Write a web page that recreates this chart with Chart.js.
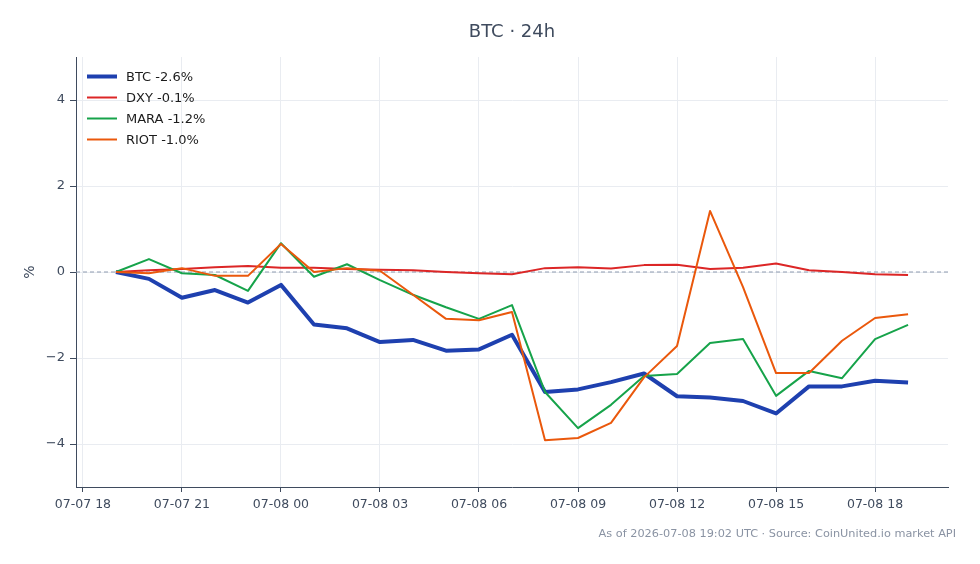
<!DOCTYPE html>
<html>
<head>
<meta charset="utf-8">
<script src="https://cdn.jsdelivr.net/npm/chart.js@4/dist/chart.umd.min.js"></script>
<style>
  html, body { margin: 0; padding: 0; background: #fff; }
</style>
</head>
<body>
<canvas id="chart" width="980" height="564"></canvas>
<script>
'use strict'

// hourly samples, % change since first point
const baseTime = '2026-07-07T18:00:00Z'
const times = [
  '2026-07-07T19:00:00Z', '2026-07-07T20:00:00Z', '2026-07-07T21:00:00Z', '2026-07-07T22:00:00Z',
  '2026-07-07T23:00:00Z', '2026-07-08T00:00:00Z', '2026-07-08T01:00:00Z', '2026-07-08T02:00:00Z',
  '2026-07-08T03:00:00Z', '2026-07-08T04:00:00Z', '2026-07-08T05:00:00Z', '2026-07-08T06:00:00Z',
  '2026-07-08T07:00:00Z', '2026-07-08T08:00:00Z', '2026-07-08T09:00:00Z', '2026-07-08T10:00:00Z',
  '2026-07-08T11:00:00Z', '2026-07-08T12:00:00Z', '2026-07-08T13:00:00Z', '2026-07-08T14:00:00Z',
  '2026-07-08T15:00:00Z', '2026-07-08T16:00:00Z', '2026-07-08T17:00:00Z', '2026-07-08T18:00:00Z',
  '2026-07-08T19:00:00Z'
]
const btc  = [0, -0.16, -0.60, -0.42, -0.71, -0.30, -1.22, -1.31, -1.63, -1.58, -1.83, -1.80, -1.46,
              -2.79, -2.73, -2.56, -2.36, -2.89, -2.92, -3.00, -3.29, -2.66, -2.66, -2.53, -2.57]
const dxy  = [0, 0.04, 0.07, 0.11, 0.14, 0.10, 0.10, 0.07, 0.05, 0.04, 0.00, -0.03, -0.05,
              0.09, 0.11, 0.08, 0.16, 0.17, 0.07, 0.10, 0.20, 0.04, 0.00, -0.05, -0.07]
const mara = [0, 0.30, -0.03, -0.07, -0.44, 0.67, -0.11, 0.18, -0.19, -0.53, -0.82, -1.09, -0.77,
              -2.79, -3.63, -3.09, -2.42, -2.37, -1.65, -1.56, -2.88, -2.30, -2.47, -1.56, -1.23]
const riot = [0, -0.03, 0.09, -0.09, -0.09, 0.65, 0.00, 0.09, 0.03, -0.53, -1.09, -1.12, -0.93,
              -3.91, -3.86, -3.51, -2.45, -1.72, 1.42, -0.35, -2.35, -2.35, -1.60, -1.07, -0.98]

const seriesNames = ['BTC', 'DXY', 'MARA', 'RIOT']
const xTickHours = [0, 3, 6, 9, 12, 15, 18, 21, 24]
const xTickLabels = ['07-07 18', '07-07 21', '07-08 00', '07-08 03', '07-08 06',
                     '07-08 09', '07-08 12', '07-08 15', '07-08 18']
const yTicks = [-4, -2, 0, 2, 4]

const titleText = 'BTC · 24h'
const footerText = 'As of 2026-07-08 19:02 UTC · Source: CoinUnited.io market API'

const axisColor = '#3f4b5e'
const gridColor = '#e9ecf1'
const font = '"DejaVu Sans", sans-serif'

const hours = times.map(t => (Date.parse(t) - Date.parse(baseTime)) / 3.6e6)
const toPoints = arr => arr.map((v, i) => ({ x: hours[i], y: v }))
const label = (name, arr) => name + ' ' + arr[arr.length - 1].toFixed(1) + '%'

const decor = {
  id: 'decor',
  beforeDatasetsDraw(chart) {
    const { ctx, chartArea: a, scales: { y } } = chart
    const y0 = y.getPixelForValue(0)
    ctx.save()
    ctx.strokeStyle = '#8f9bb0'
    ctx.lineWidth = 1
    ctx.setLineDash([4, 3])
    ctx.beginPath()
    ctx.moveTo(a.left, y0)
    ctx.lineTo(a.right, y0)
    ctx.stroke()
    ctx.restore()
  },
  afterDraw(chart) {
    const { ctx, chartArea: a } = chart
    ctx.save()
    ctx.textBaseline = 'middle'

    ctx.fillStyle = axisColor
    ctx.font = '18px ' + font
    ctx.textAlign = 'center'
    ctx.fillText(titleText, (a.left + a.right) / 2, 32)

    ctx.fillStyle = '#8a93a3'
    ctx.font = '11.3px ' + font
    ctx.textAlign = 'right'
    ctx.fillText(footerText, chart.width - 24, 534)

    // legend, top-left inside the plot
    ctx.textAlign = 'left'
    ctx.font = '13px ' + font
    chart.data.datasets.forEach((ds, i) => {
      const yy = a.top + 19.5 + i * 21
      ctx.strokeStyle = ds.borderColor
      ctx.lineWidth = ds.borderWidth
      ctx.beginPath()
      ctx.moveTo(a.left + 11, yy)
      ctx.lineTo(a.left + 41, yy)
      ctx.stroke()
      ctx.fillStyle = '#1c1c1c'
      ctx.fillText(ds.label, a.left + 50, yy + 1)
    })
    ctx.restore()
  }
}

const datasets = [
  { label: label(seriesNames[0], btc),  data: toPoints(btc),  borderColor: '#1e40af', borderWidth: 4, order: 3 },
  { label: label(seriesNames[1], dxy),  data: toPoints(dxy),  borderColor: '#dc2626', borderWidth: 2, order: 2 },
  { label: label(seriesNames[2], mara), data: toPoints(mara), borderColor: '#16a34a', borderWidth: 2, order: 1 },
  { label: label(seriesNames[3], riot), data: toPoints(riot), borderColor: '#ea580c', borderWidth: 2, order: 0 }
]

new Chart(document.getElementById('chart').getContext('2d'), {
  type: 'line',
  data: { datasets },
  plugins: [decor],
  options: {
    responsive: false,
    animation: false,
    layout: { padding: { top: 57, right: 32, bottom: 47, left: 0 } },
    elements: {
      line: { tension: 0, fill: false, borderJoinStyle: 'round' },
      point: { radius: 0, hoverRadius: 0 }
    },
    plugins: {
      legend: { display: false },
      title: { display: false },
      tooltip: { enabled: false }
    },
    scales: {
      x: {
        type: 'linear',
        min: -0.21,
        max: 26.21,
        afterBuildTicks: s => { s.ticks = xTickHours.map(v => ({ value: v })) },
        afterFit: s => { s.height = 30 },
        ticks: {
          autoSkip: false,
          maxRotation: 0,
          padding: 5,
          color: axisColor,
          font: { family: font, size: 12.5 },
          callback: v => xTickLabels[xTickHours.indexOf(v)]
        },
        grid: { color: gridColor, tickColor: axisColor, tickLength: 5 },
        border: { color: axisColor, width: 1 }
      },
      y: {
        min: -5,
        max: 5,
        afterBuildTicks: s => { s.ticks = yTicks.map(v => ({ value: v })) },
        afterFit: s => { s.width = 76 },
        ticks: {
          padding: 5,
          color: axisColor,
          font: { family: font, size: 13 },
          callback: v => (v < 0 ? '\u2212' + Math.abs(v) : '' + v)
        },
        grid: { color: gridColor, tickColor: axisColor, tickLength: 6 },
        border: { color: axisColor, width: 1 },
        title: {
          display: true,
          text: '%',
          color: axisColor,
          font: { family: font, size: 14 },
          padding: { top: 22, bottom: 0 }
        }
      }
    }
  }
})
</script>
</body>
</html>
